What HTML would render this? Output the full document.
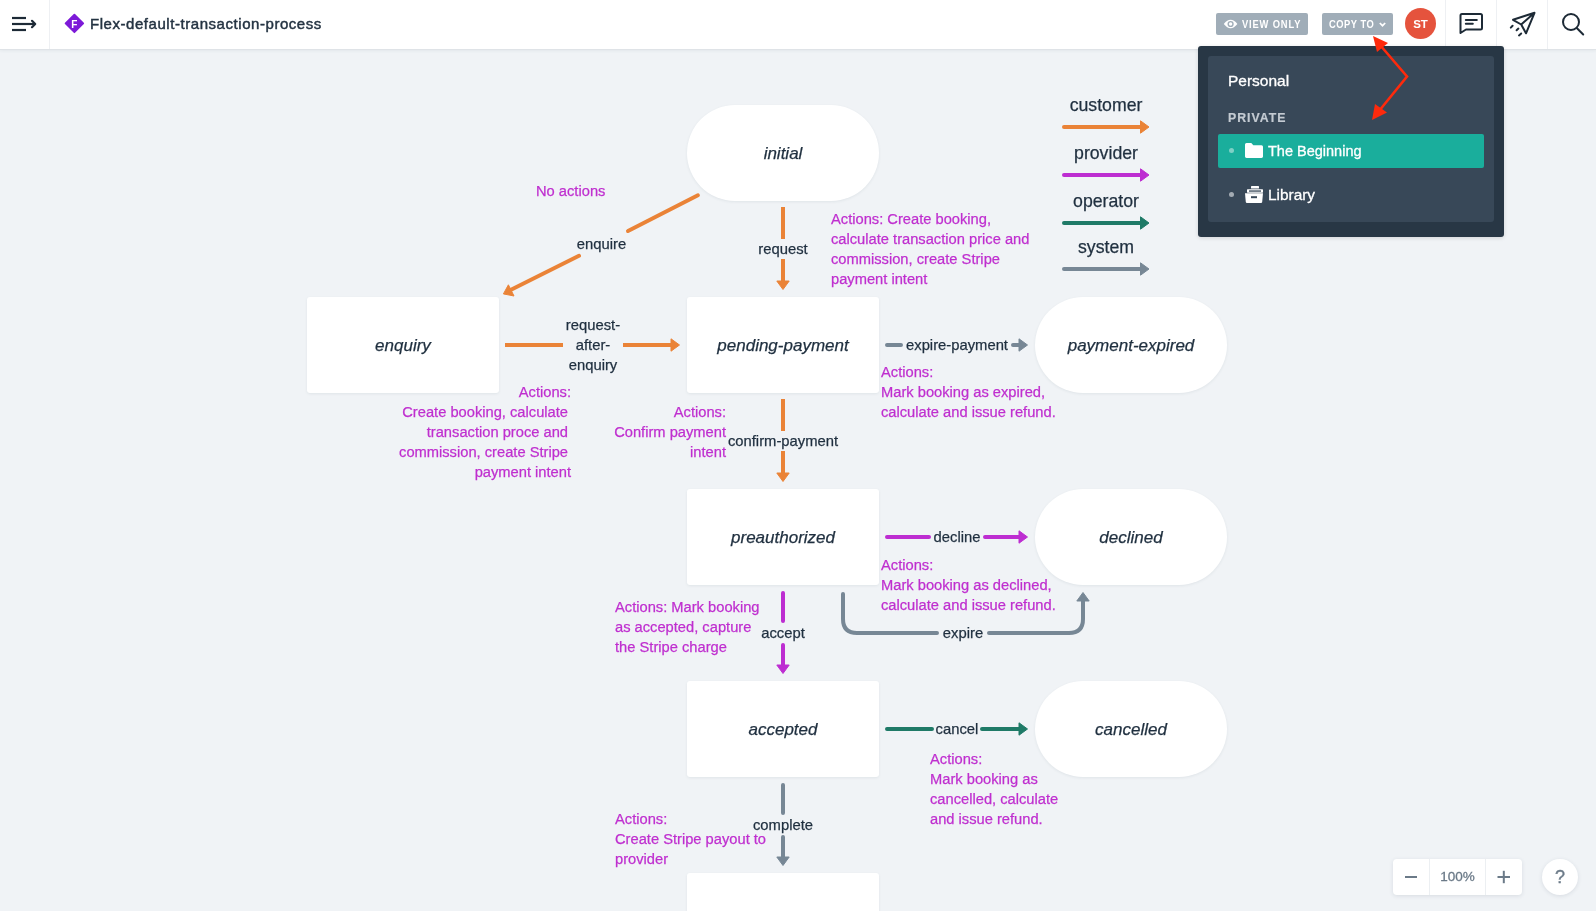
<!DOCTYPE html>
<html><head><meta charset="utf-8">
<style>
html,body{margin:0;padding:0;width:1596px;height:911px;overflow:hidden;background:#f0f3f6;font-family:"Liberation Sans",sans-serif;}
#hdr{position:absolute;left:0;top:0;width:1596px;height:49px;background:#fff;border-bottom:1px solid #dfe3e7;box-shadow:0 1px 3px rgba(60,80,100,0.07);}
.vd{position:absolute;top:0;width:1px;height:49px;background:#eef0f3;}
#title{position:absolute;left:90px;top:15px;font-size:15px;color:#243342;-webkit-text-stroke:0.45px #243342;letter-spacing:0.55px;white-space:nowrap;line-height:18px;}
.btn{position:absolute;top:13px;height:22px;background:#a0adb8;border-radius:2px;color:#fff;font-weight:bold;font-size:10.5px;line-height:22px;white-space:nowrap;}
#avatar{position:absolute;left:1404.5px;top:8.3px;width:31.2px;height:31.2px;border-radius:50%;background:#e5533d;color:#fff;font-weight:bold;font-size:11.5px;line-height:32px;text-align:center;text-indent:0.8px;}
svg{position:absolute;left:0;top:0;}
body>svg,#hdr,#dd,#zoom,#help{will-change:transform;}
.node{position:absolute;background:#fff;box-shadow:0 1px 3px rgba(40,60,80,0.08);}
#dd{position:absolute;left:1198px;top:46px;width:306px;height:191px;background:#283745;border-radius:3px;box-shadow:0 1px 4px rgba(0,0,0,0.13);}
#ddin{position:absolute;left:10px;top:10px;width:286px;height:166px;background:#384858;border-radius:3px;}
#zoom{position:absolute;left:1393px;top:859px;width:129px;height:36px;background:#fff;border-radius:4px;box-shadow:0 1px 4px rgba(40,60,80,0.12);}
#help{position:absolute;left:1542px;top:859px;width:36px;height:36px;border-radius:50%;background:#fff;box-shadow:0 1px 4px rgba(40,60,80,0.12);}
</style></head><body>
<!-- nodes -->
<div class="node" style="left:687px;top:105px;width:192px;height:96px;border-radius:48px;"></div>
<div class="node" style="left:307px;top:297px;width:192px;height:96px;border-radius:3px;"></div>
<div class="node" style="left:687px;top:297px;width:192px;height:96px;border-radius:3px;"></div>
<div class="node" style="left:1035px;top:297px;width:192px;height:96px;border-radius:48px;"></div>
<div class="node" style="left:687px;top:489px;width:192px;height:96px;border-radius:3px;"></div>
<div class="node" style="left:1035px;top:489px;width:192px;height:96px;border-radius:48px;"></div>
<div class="node" style="left:687px;top:681px;width:192px;height:96px;border-radius:3px;"></div>
<div class="node" style="left:1035px;top:681px;width:192px;height:96px;border-radius:48px;"></div>
<div class="node" style="left:687px;top:873px;width:192px;height:96px;border-radius:3px;"></div>

<svg width="1596" height="911" viewBox="0 0 1596 911" font-family="Liberation Sans, sans-serif">
<defs></defs>
<g id="edges" fill="none" stroke-width="4" stroke-linecap="round" stroke-linejoin="round">
 <!-- legend -->
 <path d="M1064 127 H1142" stroke="#ea8337"/>
 <path d="M1064 175 H1142" stroke="#bd2dd1"/>
 <path d="M1064 223 H1142" stroke="#1f7a67"/>
 <path d="M1064 269 H1142" stroke="#778795"/>
 <!-- initial->enquiry -->
 <path d="M697.9 195.3 L628 231" stroke="#ea8337"/>
 <path d="M579 255.8 L511 289.8" stroke="#ea8337"/>
 <!-- initial->pending -->
 <path d="M783 207 V239 M783 259 V282" stroke="#ea8337" stroke-linecap="butt"/>
 <!-- enquiry->pending -->
 <path d="M505 345 H563 M623 345 H672" stroke="#ea8337" stroke-linecap="butt"/>
 <!-- pending->expired -->
 <path d="M887 345 H901 M1013 345 H1021" stroke="#778795"/>
 <!-- pending->preauth -->
 <path d="M783 399 V431 M783 451 V474" stroke="#ea8337" stroke-linecap="butt"/>
 <!-- decline -->
 <path d="M887 537 H929 M985 537 H1021" stroke="#bd2dd1"/>
 <!-- expire curve -->
 <path d="M843 594 V619 Q843 633 857 633 H937" stroke="#778795"/>
 <path d="M989 633 H1069 Q1083 633 1083 619 V599" stroke="#778795"/>
 <!-- accept -->
 <path d="M783 593 V621 M783 645 V667" stroke="#bd2dd1"/>
 <!-- cancel -->
 <path d="M887 729 H932 M982 729 H1021" stroke="#1f7a67"/>
 <!-- complete -->
 <path d="M783 785 V813 M783 837 V859" stroke="#778795"/>
</g>
<g id="heads" stroke-width="1" stroke-linejoin="round">
 <path d="M1149 127 L1140.5 120.8 L1140.5 133.2 Z" fill="#ea8337" stroke="#ea8337"/>
 <path d="M1149 175 L1140.5 168.8 L1140.5 181.2 Z" fill="#bd2dd1" stroke="#bd2dd1"/>
 <path d="M1149 223 L1140.5 216.8 L1140.5 229.2 Z" fill="#1f7a67" stroke="#1f7a67"/>
 <path d="M1149 269 L1140.5 262.8 L1140.5 275.2 Z" fill="#778795" stroke="#778795"/>
 <path d="M503.4 293.9 L514 296 L508.4 284.8 Z" fill="#ea8337" stroke="#ea8337"/>
 <path d="M783 289.5 L776.8 281 L789.2 281 Z" fill="#ea8337" stroke="#ea8337"/>
 <path d="M679.5 345 L671 338.8 L671 351.2 Z" fill="#ea8337" stroke="#ea8337"/>
 <path d="M1027.5 345 L1019 338.8 L1019 351.2 Z" fill="#778795" stroke="#778795"/>
 <path d="M783 481.5 L776.8 473 L789.2 473 Z" fill="#ea8337" stroke="#ea8337"/>
 <path d="M1027.5 537 L1019 530.8 L1019 543.2 Z" fill="#bd2dd1" stroke="#bd2dd1"/>
 <path d="M1083 592.5 L1076.8 601 L1089.2 601 Z" fill="#778795" stroke="#778795"/>
 <path d="M783 673.5 L776.8 665 L789.2 665 Z" fill="#bd2dd1" stroke="#bd2dd1"/>
 <path d="M1027.5 729 L1019 722.8 L1019 735.2 Z" fill="#1f7a67" stroke="#1f7a67"/>
 <path d="M783 865.5 L776.8 857 L789.2 857 Z" fill="#778795" stroke="#778795"/>
</g>
<g id="nodelabels" font-style="italic" font-size="17" fill="#1f2f3f" stroke="#1f2f3f" stroke-width="0.25" text-anchor="middle">
 <text x="783" y="159">initial</text>
 <text x="403" y="351">enquiry</text>
 <text x="783" y="351">pending-payment</text>
 <text x="1131" y="351">payment-expired</text>
 <text x="783" y="543">preauthorized</text>
 <text x="1131" y="543">declined</text>
 <text x="783" y="735">accepted</text>
 <text x="1131" y="735">cancelled</text>
</g>
<g id="legend" font-size="17.7" fill="#1f2f3f" stroke="#1f2f3f" stroke-width="0.25" text-anchor="middle">
 <text x="1106" y="111">customer</text>
 <text x="1106" y="159">provider</text>
 <text x="1106" y="207">operator</text>
 <text x="1106" y="253">system</text>
</g>
<g id="elabels" font-size="14.8" fill="#1f2f3f" stroke="#1f2f3f" stroke-width="0.25" text-anchor="middle">
 <text x="601.5" y="249">enquire</text>
 <text x="783" y="254">request</text>
 <text x="593" y="330">request-</text>
 <text x="593" y="350">after-</text>
 <text x="593" y="370">enquiry</text>
 <text x="957" y="350">expire-payment</text>
 <text x="783" y="446">confirm-payment</text>
 <text x="957" y="542">decline</text>
 <text x="963" y="638">expire</text>
 <text x="783" y="638">accept</text>
 <text x="957" y="734">cancel</text>
 <text x="783" y="830">complete</text>
</g>
<g id="actions" font-size="14.7" fill="#bf2fcf" stroke="#bf2fcf" stroke-width="0.25">
 <text x="536" y="196">No actions</text>
 <text x="831" y="224">Actions: Create booking,</text>
 <text x="831" y="244">calculate transaction price and</text>
 <text x="831" y="264">commission, create Stripe</text>
 <text x="831" y="284">payment intent</text>
 <g text-anchor="end">
  <text x="571" y="397">Actions:</text>
  <text x="568" y="417">Create booking, calculate</text>
  <text x="568" y="437">transaction proce and</text>
  <text x="568" y="457">commission, create Stripe</text>
  <text x="571" y="477">payment intent</text>
  <text x="726" y="417">Actions:</text>
  <text x="726" y="437">Confirm payment</text>
  <text x="726" y="457">intent</text>
 </g>
 <text x="881" y="377">Actions:</text>
 <text x="881" y="397">Mark booking as expired,</text>
 <text x="881" y="417">calculate and issue refund.</text>
 <text x="881" y="570">Actions:</text>
 <text x="881" y="590">Mark booking as declined,</text>
 <text x="881" y="610">calculate and issue refund.</text>
 <text x="615" y="612">Actions: Mark booking</text>
 <text x="615" y="632">as accepted, capture</text>
 <text x="615" y="652">the Stripe charge</text>
 <text x="930" y="764">Actions:</text>
 <text x="930" y="784">Mark booking as</text>
 <text x="930" y="804">cancelled, calculate</text>
 <text x="930" y="824">and issue refund.</text>
 <text x="615" y="824">Actions:</text>
 <text x="615" y="844">Create Stripe payout to</text>
 <text x="615" y="864">provider</text>
</g>
</svg>

<!-- header -->
<div id="hdr">
 <div class="vd" style="left:49px"></div>
 <div class="vd" style="left:1445px"></div>
 <div class="vd" style="left:1496px"></div>
 <div class="vd" style="left:1547px"></div>
 <svg width="50" height="49" style="left:0;top:0">
  <g stroke="#1d2a36" stroke-width="2.2" fill="none">
   <line x1="12" y1="18" x2="26" y2="18"/>
   <line x1="12" y1="24" x2="35" y2="24"/>
   <line x1="12" y1="30" x2="26" y2="30"/>
   <path d="M32 20.8 L35.2 24 L32 27.2" stroke-linecap="round" stroke-linejoin="round"/>
  </g>
 </svg>
 <svg width="24" height="24" style="left:62px;top:11px">
  <path d="M12.4 3.6 L21.2 12.4 L12.4 21.2 L3.6 12.4 Z" fill="#7d1ad8" stroke="#7d1ad8" stroke-width="1.8" stroke-linejoin="round"/>
  <text x="12.3" y="16.6" text-anchor="middle" font-size="10" font-weight="bold" fill="#fff" font-family="Liberation Sans">F</text>
 </svg>
 <div id="title">Flex-default-transaction-process</div>
 <div class="btn" style="left:1216px;width:92px;">
  <svg width="18" height="22" style="left:7px;top:0"><path d="M0.8 11 Q7.6 2.6 14.4 11 Q7.6 19.4 0.8 11 Z" fill="#fff"/><circle cx="7.6" cy="11" r="3.1" fill="#a0adb8"/><circle cx="7.6" cy="11" r="1.7" fill="#fff"/></svg>
  <span style="position:absolute;left:26px;top:0;font-size:11px;letter-spacing:1px;transform:scaleX(0.85);transform-origin:0 0;">VIEW ONLY</span>
 </div>
 <div class="btn" style="left:1322px;width:71px;">
  <span style="position:absolute;left:7px;top:0;font-size:11px;letter-spacing:0.6px;transform:scaleX(0.85);transform-origin:0 0;">COPY TO</span>
  <svg width="10" height="22" style="left:56px;top:0"><path d="M1.8 10 L4.5 12.7 L7.2 10" stroke="#fff" stroke-width="1.7" fill="none"/></svg>
 </div>
 <div id="avatar">ST</div>
 <svg width="150" height="49" style="left:1446px;top:0">
  <g stroke="#1d2a36" stroke-width="2" fill="none" stroke-linejoin="round" stroke-linecap="round">
   <path d="M16.5 14 H34.5 Q36 14 36 15.5 V28 Q36 29.5 34.5 29.5 H20 L14.5 33 V15.5 Q14.5 14 16 14 Z"/>
   <line x1="19.8" y1="20" x2="30.8" y2="20"/>
   <line x1="19.8" y1="23.8" x2="26.8" y2="23.8"/>
   <path d="M67 19.8 L88.5 12.8 L80 33.3 L75.2 24.5 Z M88.5 12.8 L75.2 24.5"/>
   <line x1="64.8" y1="27.6" x2="66.6" y2="25.8"/>
   <line x1="70.6" y1="30.3" x2="72.4" y2="28.6"/>
   <line x1="73" y1="35.4" x2="75.2" y2="33.5"/>
   <circle cx="125" cy="22" r="8"/>
   <line x1="131" y1="28.3" x2="137.2" y2="34.5"/>
  </g>
 </svg>
</div>

<!-- dropdown -->
<div id="dd">
 <div id="ddin"></div>
 <div style="position:absolute;left:30px;top:26px;color:#fff;font-size:15.5px;line-height:18px;-webkit-text-stroke:0.3px #fff;">Personal</div>
 <div style="position:absolute;left:30px;top:64px;color:#c4cbd2;font-size:13.5px;font-weight:bold;letter-spacing:1.1px;line-height:16px;transform:scaleX(0.91);transform-origin:0 0;-webkit-text-stroke:0.2px #c4cbd2;">PRIVATE</div>
 <div style="position:absolute;left:20px;top:88px;width:266px;height:34px;background:#1aae9c;border-radius:2px;"></div>
 <div style="position:absolute;left:31px;top:102px;width:5px;height:5px;border-radius:50%;background:#7fd0c6;"></div>
 <div style="position:absolute;left:31px;top:146px;width:5px;height:5px;border-radius:50%;background:#a3abb3;"></div>
 <svg width="22" height="20" style="left:46px;top:96px"><path d="M1 2.5 Q1 1 2.5 1 H7.3 L9.3 3.3 H17.5 Q19 3.3 19 4.8 V14.6 Q19 16 17.5 16 H2.5 Q1 16 1 14.6 Z" fill="#fff"/></svg>
 <div style="position:absolute;left:70px;top:96px;color:#fff;font-size:14.5px;line-height:18px;-webkit-text-stroke:0.3px #fff;">The Beginning</div>
 <svg width="22" height="20" style="left:46px;top:139px">
  <rect x="7" y="1" width="8" height="2.6" rx="0.6" fill="#fff"/>
  <rect x="3" y="4.3" width="16" height="3.4" rx="0.6" fill="#fff"/>
  <rect x="5" y="5.4" width="12" height="1.3" fill="#384858"/>
  <path d="M1 8.2 H19 L18.2 17 Q18.1 18 17 18 H3 Q1.9 18 1.8 17 Z" fill="#fff"/>
  <rect x="7" y="11.2" width="6" height="2" fill="#384858"/>
 </svg>
 <div style="position:absolute;left:70px;top:140px;color:#fff;font-size:15.4px;line-height:18px;-webkit-text-stroke:0.3px #fff;">Library</div>
</div>

<!-- red annotation arrow -->
<svg width="1596" height="200" style="left:0;top:0">
 <path d="M1380 45 L1407 76.5 L1379 111" stroke="#fe2a0c" stroke-width="2.6" fill="none" stroke-linejoin="miter"/>
 <path d="M1373 36 L1388 43 L1377 52 Z" fill="#fe2a0c"/>
 <path d="M1372 120 L1375 104 L1387 112.5 Z" fill="#fe2a0c"/>
</svg>

<!-- zoom -->
<div id="zoom">
 <div style="position:absolute;left:36px;top:0;width:1px;height:36px;background:#eceff2"></div>
 <div style="position:absolute;left:92px;top:0;width:1px;height:36px;background:#eceff2"></div>
 <svg width="129" height="36" style="left:0;top:0"><g stroke="#6b7a88" stroke-width="2"><line x1="12" y1="18" x2="24" y2="18"/><line x1="104.5" y1="18" x2="117" y2="18"/><line x1="110.8" y1="11.8" x2="110.8" y2="24.2"/></g></svg>
 <div style="position:absolute;left:37px;top:0;width:55px;text-align:center;line-height:36px;font-size:13.5px;color:#6b7a88;-webkit-text-stroke:0.3px #6b7a88;">100%</div>
</div>
<div id="help"><div style="position:absolute;left:0;top:0;width:36px;text-align:center;line-height:36px;font-size:18px;color:#6b7a88;-webkit-text-stroke:0.35px #6b7a88;">?</div></div>
</body></html>
